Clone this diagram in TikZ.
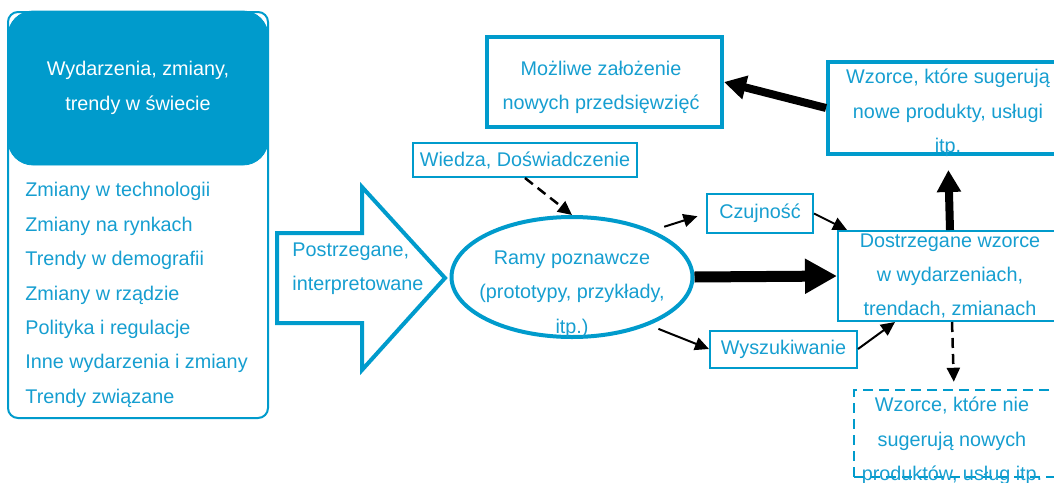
\documentclass[tikz,border=0pt]{standalone}
\usepackage{fontspec}
\setmainfont{Liberation Sans}
\usetikzlibrary{arrows.meta,shapes.geometric}
\definecolor{sky}{RGB}{0,155,204}
\definecolor{skytext}{RGB}{22,158,208}

\begin{document}
\begin{tikzpicture}[x=0.5pt,y=-0.5pt,
  every node/.style={font=\fontsize{9.9}{17.2}\selectfont, text=skytext,
    align=center, inner sep=0pt},
  box/.style={draw=sky, line width=1pt, rectangle},
  boldbox/.style={draw=sky, line width=2pt, rectangle},
  dashbox/.style={draw=sky, line width=1.25pt, rectangle, dash pattern=on 5pt off 3pt},
  link/.style={draw=black, line width=1pt, -{Triangle[length=7pt,width=6.5pt]}},
  dashlink/.style={link, line width=1.25pt, dash pattern=on 5pt off 3pt},
  heavy/.style={draw=black, line width=5.5pt, -{Triangle[length=16pt,width=16.5pt]}},
  medium/.style={draw=black, line width=4pt, -{Triangle[length=11pt,width=11.5pt]}}]

\useasboundingbox (0,0) rectangle (1054,482);
\clip (0,0) rectangle (1054,482);

% left column: header with the list of sources below it
\node[draw=sky, line width=1pt, rounded corners=5pt, minimum width=130pt,
  minimum height=203pt] (panel) at (138,215) {};
\node[fill=sky, draw=sky, rounded corners=12.5pt, minimum width=130pt,
  minimum height=77pt, text=white] (head) at (138,88)
  {Wydarzenia, zmiany,\\trendy w świecie};
\node[anchor=west, align=left] (items) at (25,295)
  {Zmiany w technologii\\Zmiany na rynkach\\Trendy w demografii\\Zmiany w rządzie\\Polityka i regulacje\\Inne wydarzenia i zmiany\\Trendy związane};

% block arrow
\draw[sky, line width=2pt] (277,233) -- (362,233) -- (362,187) -- (445,278)
  -- (362,370) -- (362,323) -- (277,323) -- cycle;
\node[anchor=west, align=left] (perc) at (292,269)
  {Postrzegane,\\interpretowane};

% cognitive frames
\node[ellipse, draw=sky, line width=2pt, minimum width=120.5pt,
  minimum height=60pt] (ramy) at (572,277) {};
\node (ramyt) at (572,294) {Ramy poznawcze\\(prototypy, przykłady,\\itp.)};

\node[box, minimum width=112pt, minimum height=17pt] (wiedza) at (525,160)
  {Wiedza, Doświadczenie};
\node[box, minimum width=53pt, minimum height=19.5pt] (czuj) at (760,213.5)
  {Czujność};
\node[box, minimum width=73.5pt, minimum height=18.5pt] (wysz) at (783.5,349)
  {Wyszukiwanie};
\node[box, minimum width=112pt, minimum height=45pt] (dostr) at (950,276)
  {Dostrzegane wzorce\\w wydarzeniach,\\trendach, zmianach};

% idea boxes, their text set a little below the box centre
\node[boldbox, minimum width=120pt, minimum height=46pt] (wzorce) at (948,108) {};
\node (wzorcet) at (948,113) {Wzorce, które sugerują\\nowe produkty, usługi\\itp.};
\node[boldbox, minimum width=117.5pt, minimum height=45pt] (mozl) at (604.5,82) {};
\node (mozlt) at (601,87.5) {Możliwe założenie\\nowych przedsięwzięć};
\node[dashbox, minimum width=103pt, minimum height=43.5pt] (nie) at (957,433.5) {};
\node (niet) at (952,441) {Wzorce, które nie\\sugerują nowych\\produktów, usług itp.};

% connectors
\draw[dashlink] (wiedza.south) -- (ramy.north);
\draw[link, shorten <=6pt, shorten >=4.5pt] (ramy.30) -- (czuj.west);
\draw[link] (czuj.east) -- ([xshift=5pt]dostr.north west);
\draw[link, shorten <=5pt] (ramy.-32) -- (wysz.west);
\draw[link] (wysz.east) -- ([xshift=-27.5pt]dostr.south);
\draw[heavy] (ramy.east) -- (dostr.west);
\draw[dashlink, shorten >=3.5pt] ([xshift=1pt]dostr.south) -- ([xshift=-1.5pt]nie.north);
\draw[medium, shorten >=7pt] (dostr.north) -- (wzorce.south);
\draw[medium] (wzorce.west) -- (mozl.east);
\end{tikzpicture}
\end{document}
